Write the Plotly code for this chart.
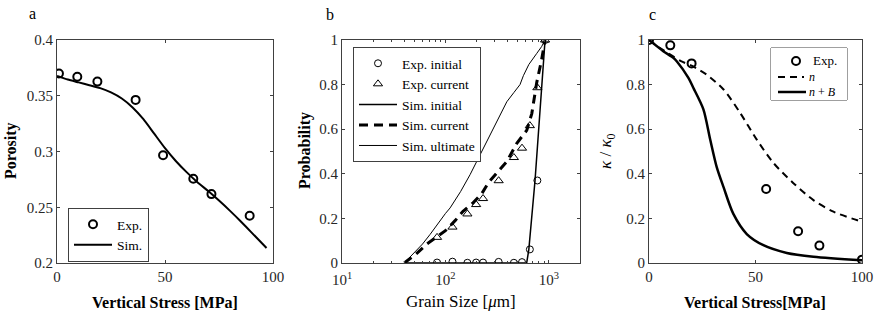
import plotly.graph_objects as go

# ---------- Panel a data ----------
a_exp_x = [0.9, 9.4, 18.7, 36.4, 49.1, 63.1, 71.5, 89.2]
a_exp_y = [0.370, 0.367, 0.3627, 0.3463, 0.2967, 0.2755, 0.2618, 0.2424]
a_sim_x = [0, 5, 10, 15, 20, 25, 30, 35, 40, 45, 50, 55, 60, 65, 70, 75, 80, 85, 90, 95, 97]
a_sim_y = [0.3678, 0.3645, 0.3620, 0.3595, 0.3568, 0.3530, 0.3475, 0.3395, 0.3290, 0.3160, 0.3030,
           0.2915, 0.2815, 0.2725, 0.2645, 0.2560, 0.2470, 0.2375, 0.2275, 0.2175, 0.2135]

# ---------- Panel b data ----------
b_sieve = [83, 117, 163, 198, 231, 327, 459, 550, 655, 774, 919]
b_exp_init = [0.002, 0.006, 0.001, 0.002, 0.002, 0.005, 0.001, 0.004, 0.061, 0.37, 1.0]
b_exp_curr = [0.115, 0.161, 0.22, 0.262, 0.289, 0.369, 0.473, 0.515, 0.616, 0.786, 1.0]
b_sim_init_x = [40, 610, 640, 735, 919]
b_sim_init_y = [0, 0, 0.06, 0.37, 1.0]
b_sim_curr_x = [40, 52, 66, 89, 100, 124, 148, 185, 224, 260, 320, 392, 490, 611, 684, 764, 850, 919]
b_sim_curr_y = [0, 0.04, 0.085, 0.128, 0.145, 0.19, 0.232, 0.27, 0.31, 0.36, 0.41, 0.455, 0.537, 0.595, 0.67, 0.81, 0.91, 1.0]
b_sim_ult_x = [40, 50, 60, 71, 85, 100, 111, 140, 173, 220, 270, 330, 392, 460, 526, 567, 640, 764, 850, 919]
b_sim_ult_y = [0, 0.045, 0.085, 0.128, 0.18, 0.222, 0.247, 0.32, 0.396, 0.49, 0.574, 0.655, 0.723, 0.765, 0.80, 0.84, 0.89, 0.94, 0.97, 1.0]

# ---------- Panel c data ----------
c_exp_x = [0, 10, 20, 55, 70, 80, 100]
c_exp_y = [1.0, 0.976, 0.895, 0.332, 0.142, 0.078, 0.015]
c_n_x = [0, 5, 10, 15, 20, 27, 35, 42.8, 50.6, 58.5, 67.8, 77.2, 86.6, 100]
c_n_y = [1.0, 0.965, 0.935, 0.905, 0.885, 0.845, 0.778, 0.673, 0.553, 0.448, 0.358, 0.282, 0.23, 0.185]
c_nb_x = [0, 6.7, 11.4, 13, 18.5, 20.8, 25.5, 28.7, 31.8, 35, 39.6, 45.9, 53.7, 64.7, 77.2, 100]
c_nb_y = [1.0, 0.95, 0.92, 0.905, 0.83, 0.786, 0.69, 0.555, 0.43, 0.34, 0.22, 0.13, 0.08, 0.045, 0.028, 0.012]
c_legend_labels = ["Exp.", "<i>n</i>", "<i>n</i> + <i>B</i>"]

W, H = 877, 314
SERIF = "Liberation Serif"
AX = "#404040"
TICK = "#262626"

fig = go.Figure()

# Panel a
fig.add_trace(go.Scatter(x=a_exp_x, y=a_exp_y, mode="markers", name="Exp.",
                         marker=dict(symbol="circle-open", size=8, color="black", line=dict(width=2)),
                         xaxis="x", yaxis="y", legend="legend"))
fig.add_trace(go.Scatter(x=a_sim_x, y=a_sim_y, mode="lines", name="Sim.",
                         line=dict(color="black", width=2, shape="spline", smoothing=0.6),
                         xaxis="x", yaxis="y", legend="legend"))

# Panel b
fig.add_trace(go.Scatter(x=b_sieve, y=b_exp_init, mode="markers", name="Exp. initial",
                         marker=dict(symbol="circle-open", size=7, color="black", line=dict(width=1)),
                         xaxis="x2", yaxis="y2", legend="legend2"))
fig.add_trace(go.Scatter(x=b_sieve, y=b_exp_curr, mode="markers", name="Exp. current",
                         marker=dict(symbol="triangle-up-open", size=8, color="black", line=dict(width=1)),
                         xaxis="x2", yaxis="y2", legend="legend2"))
fig.add_trace(go.Scatter(x=b_sim_init_x, y=b_sim_init_y, mode="lines", name="Sim. initial",
                         line=dict(color="black", width=1.5),
                         xaxis="x2", yaxis="y2", legend="legend2"))
fig.add_trace(go.Scatter(x=b_sim_curr_x, y=b_sim_curr_y, mode="lines", name="Sim. current",
                         line=dict(color="black", width=3, dash="9px,6px"),
                         xaxis="x2", yaxis="y2", legend="legend2"))
fig.add_trace(go.Scatter(x=b_sim_ult_x, y=b_sim_ult_y, mode="lines", name="Sim. ultimate",
                         line=dict(color="black", width=1),
                         xaxis="x2", yaxis="y2", legend="legend2"))

# Panel c
exp_marker = dict(symbol="circle-open", size=8, color="black", line=dict(width=2))
n_line = dict(color="black", width=2, dash="7px,5px")
nb_line = dict(color="black", width=2.5)
fig.add_trace(go.Scatter(x=c_exp_x, y=c_exp_y, mode="markers", name=c_legend_labels[0],
                         marker=exp_marker, xaxis="x3", yaxis="y3", showlegend=False))
fig.add_trace(go.Scatter(x=c_n_x, y=c_n_y, mode="lines", name=c_legend_labels[1],
                         line=dict(n_line, shape="spline", smoothing=0.8),
                         xaxis="x3", yaxis="y3", showlegend=False))
fig.add_trace(go.Scatter(x=c_nb_x, y=c_nb_y, mode="lines", name=c_legend_labels[2],
                         line=dict(nb_line, shape="spline", smoothing=0.8),
                         xaxis="x3", yaxis="y3", showlegend=False))

# Panel c legend (compact, drawn on a hidden helper axis in pixel units)
fig.add_trace(go.Scatter(x=[25], y=[13], mode="markers", marker=exp_marker,
                         xaxis="x4", yaxis="y4", showlegend=False, hoverinfo="skip"))
fig.add_trace(go.Scatter(x=[7, 33], y=[29, 29], mode="lines", line=n_line,
                         xaxis="x4", yaxis="y4", showlegend=False, hoverinfo="skip"))
fig.add_trace(go.Scatter(x=[7, 35], y=[44, 44], mode="lines", line=nb_line,
                         xaxis="x4", yaxis="y4", showlegend=False, hoverinfo="skip"))
for lbl, lx, ly in zip(c_legend_labels, [40, 36, 36], [13, 29, 44]):
    fig.add_annotation(text=lbl, x=lx, y=ly, xref="x4", yref="y4", showarrow=False,
                       xanchor="left", yanchor="middle",
                       font=dict(family=SERIF, size=13 if lbl == "Exp." else 12, color="black"))
fig.add_shape(type="rect", xref="x4 domain", yref="y4 domain", x0=0, x1=1, y0=0, y1=1,
              line=dict(color=AX, width=1), fillcolor="white", layer="below")

def ax(**kw):
    d = dict(showline=True, linecolor=AX, linewidth=1, mirror="ticks", ticks="inside",
             ticklen=3, tickcolor=AX, showgrid=False, zeroline=False, automargin=False,
             tickfont=dict(family=SERIF, size=15, color=TICK))
    d.update(kw)
    return d

y0, y1 = 1 - 263 / H, 1 - 40 / H

leg = dict(xanchor="left", yanchor="top", bgcolor="white", bordercolor=AX, borderwidth=1,
           tracegroupgap=0, itemwidth=38)

fig.update_layout(
    width=W, height=H, margin=dict(l=0, r=0, t=0, b=0, autoexpand=False),
    paper_bgcolor="white", plot_bgcolor="white",
    font=dict(family=SERIF, color="black"),
    xaxis=ax(domain=[57 / W, 273 / W], range=[0, 100], tickvals=[0, 50, 100], anchor="y"),
    yaxis=ax(domain=[y0, y1], range=[0.2, 0.4], tickvals=[0.2, 0.25, 0.3, 0.35, 0.4],
             ticktext=["0.2", "0.25", "0.3", "0.35", "0.4"], anchor="x"),
    xaxis2=ax(domain=[342 / W, 580 / W], type="log", range=[1, 3.30103], tickvals=[10, 100, 1000],
              ticktext=["10<sup>1</sup>", "10<sup>2</sup>", "10<sup>3</sup>"], anchor="y2",
              ticklabelstandoff=3,
              minor=dict(ticks="inside", ticklen=2, tickcolor=AX,
                         tickvals=[20, 30, 40, 50, 60, 70, 80, 90, 200, 300, 400, 500, 600, 700, 800, 900, 2000])),
    yaxis2=ax(domain=[y0, y1], range=[0, 1], tickvals=[0, 0.2, 0.4, 0.6, 0.8, 1],
              ticktext=["0", "0.2", "0.4", "0.6", "0.8", "1"], anchor="x2"),
    xaxis3=ax(domain=[649 / W, 862 / W], range=[0, 100], tickvals=[0, 50, 100], anchor="y3"),
    yaxis3=ax(domain=[y0, y1], range=[0, 1], tickvals=[0, 0.2, 0.4, 0.6, 0.8, 1],
              ticktext=["0", "0.2", "0.4", "0.6", "0.8", "1"], anchor="x3"),
    xaxis4=dict(domain=[771 / W, 847 / W], range=[0, 76], visible=False, anchor="y4",
                fixedrange=True),
    yaxis4=dict(domain=[1 - 100 / H, 1 - 48 / H], range=[52, 0], visible=False, anchor="x4",
                fixedrange=True),
    legend=dict(leg, x=68 / W, y=1 - 208 / H, font=dict(family=SERIF, size=13.5, color="black")),
    legend2=dict(leg, x=353 / W, y=1 - 47 / H, font=dict(family=SERIF, size=13.5, color="black")),
    showlegend=True,
)

annots = [
    dict(text="a", x=32, y=14, size=16),
    dict(text="b", x=330, y=15, size=16),
    dict(text="c", x=652, y=15, size=16),
    dict(text="<b>Vertical Stress [MPa]</b>", x=165, y=302, size=16),
    dict(text="Grain Size [<i>μ</i>m]", x=461, y=301, size=17),
    dict(text="<b>Vertical Stress[MPa]</b>", x=755, y=302, size=16),
]
for a in annots:
    fig.add_annotation(text=a["text"], x=a["x"] / W, y=1 - a["y"] / H, xref="paper", yref="paper",
                       showarrow=False, xanchor="center", yanchor="middle",
                       font=dict(family=SERIF, size=a["size"], color="black"))

rot = [
    dict(text="<b>Porosity</b>", x=11, y=151, size=16),
    dict(text="<b>Probability</b>", x=305, y=151, size=16),
    dict(text="<i>κ</i> / <i>κ</i><sub>0</sub>", x=607, y=151, size=17),
]
for a in rot:
    fig.add_annotation(text=a["text"], x=a["x"] / W, y=1 - a["y"] / H, xref="paper", yref="paper",
                       showarrow=False, xanchor="center", yanchor="middle", textangle=-90,
                       font=dict(family=SERIF, size=a["size"], color="black"))

fig.write_html("out.html", config={"displayModeBar": False},
               post_script="document.body.style.margin='0px';document.body.style.padding='0px';")
